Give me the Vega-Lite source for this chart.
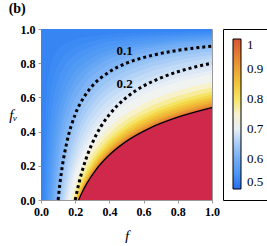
{
  "$schema": "https://vega.github.io/schema/vega-lite/v6.json",
  "width": 171,
  "height": 171,
  "padding": {"left": 8, "top": 2, "right": 0, "bottom": 0},
  "title": {"text": "(b)", "anchor": "start", "frame": "bounds", "font": "Liberation Serif", "fontSize": 14, "fontWeight": "bold", "color": "black", "offset": 7},
  "config": {
    "view": {"stroke": "#9a9a9a"},
    "axis": {"grid": false, "domainColor": "#9a9a9a", "tickColor": "#9a9a9a", "tickSize": 3, "labelFont": "Liberation Serif", "labelFontWeight": "bold", "labelFontSize": 12, "labelColor": "black", "labelPadding": 3, "labelOverlap": false, "labelFlush": false, "labelSeparation": 0, "titleFont": "Liberation Serif", "titleFontStyle": "italic", "titleFontWeight": "normal", "titleFontSize": 15, "titleColor": "black"}
  },
  "datasets": {
    "bands": [
      {"c":0.5,"f":0,"v":1},{"c":0.5,"f":1,"v":1},
      {"c":0.525,"f":0.012,"v":0},{"c":0.525,"f":0.015,"v":0.2},{"c":0.525,"f":0.02,"v":0.4},{"c":0.525,"f":0.03,"v":0.6},{"c":0.525,"f":0.05,"v":0.76},{"c":0.525,"f":0.1,"v":0.88},{"c":0.525,"f":0.2,"v":0.94},{"c":0.525,"f":0.4,"v":0.97},{"c":0.525,"f":0.7,"v":0.983},{"c":0.525,"f":1,"v":0.988},
      {"c":0.5375,"f":0.021,"v":0},{"c":0.5375,"f":0.025,"v":0.16},{"c":0.5375,"f":0.03,"v":0.3},{"c":0.5375,"f":0.04,"v":0.475},{"c":0.5375,"f":0.06,"v":0.65},{"c":0.5375,"f":0.1,"v":0.79},{"c":0.5375,"f":0.2,"v":0.895},{"c":0.5375,"f":0.4,"v":0.948},{"c":0.5375,"f":0.7,"v":0.97},{"c":0.5375,"f":1,"v":0.979},
      {"c":0.55,"f":0.03,"v":0},{"c":0.55,"f":0.035,"v":0.143},{"c":0.55,"f":0.04,"v":0.25},{"c":0.55,"f":0.05,"v":0.4},{"c":0.55,"f":0.07,"v":0.571},{"c":0.55,"f":0.1,"v":0.7},{"c":0.55,"f":0.15,"v":0.8},{"c":0.55,"f":0.2,"v":0.85},{"c":0.55,"f":0.3,"v":0.9},{"c":0.55,"f":0.5,"v":0.94},{"c":0.55,"f":0.75,"v":0.96},{"c":0.55,"f":1,"v":0.97},
      {"c":0.5625,"f":0.04,"v":0},{"c":0.5625,"f":0.046,"v":0.13},{"c":0.5625,"f":0.055,"v":0.273},{"c":0.5625,"f":0.07,"v":0.429},{"c":0.5625,"f":0.1,"v":0.6},{"c":0.5625,"f":0.15,"v":0.733},{"c":0.5625,"f":0.25,"v":0.84},{"c":0.5625,"f":0.4,"v":0.9},{"c":0.5625,"f":0.7,"v":0.943},{"c":0.5625,"f":1,"v":0.96},
      {"c":0.575,"f":0.05,"v":0},{"c":0.575,"f":0.06,"v":0.167},{"c":0.575,"f":0.075,"v":0.333},{"c":0.575,"f":0.1,"v":0.5},{"c":0.575,"f":0.13,"v":0.615},{"c":0.575,"f":0.17,"v":0.706},{"c":0.575,"f":0.25,"v":0.8},{"c":0.575,"f":0.35,"v":0.857},{"c":0.575,"f":0.5,"v":0.9},{"c":0.575,"f":0.75,"v":0.933},{"c":0.575,"f":1,"v":0.95},
      {"c":0.5875,"f":0.06,"v":0},{"c":0.5875,"f":0.07,"v":0.143},{"c":0.5875,"f":0.085,"v":0.294},{"c":0.5875,"f":0.11,"v":0.455},{"c":0.5875,"f":0.15,"v":0.6},{"c":0.5875,"f":0.2,"v":0.7},{"c":0.5875,"f":0.3,"v":0.8},{"c":0.5875,"f":0.45,"v":0.867},{"c":0.5875,"f":0.7,"v":0.914},{"c":0.5875,"f":1,"v":0.94},
      {"c":0.6,"f":0.07,"v":0},{"c":0.6,"f":0.08,"v":0.125},{"c":0.6,"f":0.1,"v":0.3},{"c":0.6,"f":0.13,"v":0.462},{"c":0.6,"f":0.17,"v":0.588},{"c":0.6,"f":0.25,"v":0.72},{"c":0.6,"f":0.35,"v":0.8},{"c":0.6,"f":0.5,"v":0.86},{"c":0.6,"f":0.75,"v":0.907},{"c":0.6,"f":1,"v":0.93},
      {"c":0.6125,"f":0.08,"v":0},{"c":0.6125,"f":0.09,"v":0.109},{"c":0.6125,"f":0.11,"v":0.267},{"c":0.6125,"f":0.14,"v":0.421},{"c":0.6125,"f":0.18,"v":0.547},{"c":0.6125,"f":0.25,"v":0.671},{"c":0.6125,"f":0.37,"v":0.776},{"c":0.6125,"f":0.55,"v":0.848},{"c":0.6125,"f":0.8,"v":0.894},{"c":0.6125,"f":1,"v":0.915},
      {"c":0.625,"f":0.09,"v":0},{"c":0.625,"f":0.1,"v":0.096},{"c":0.625,"f":0.12,"v":0.24},{"c":0.625,"f":0.15,"v":0.386},{"c":0.625,"f":0.2,"v":0.534},{"c":0.625,"f":0.3,"v":0.684},{"c":0.625,"f":0.45,"v":0.785},{"c":0.625,"f":0.65,"v":0.849},{"c":0.625,"f":1,"v":0.9},
      {"c":0.6375,"f":0.1,"v":0},{"c":0.6375,"f":0.11,"v":0.086},{"c":0.6375,"f":0.13,"v":0.219},{"c":0.6375,"f":0.16,"v":0.357},{"c":0.6375,"f":0.21,"v":0.502},{"c":0.6375,"f":0.3,"v":0.644},{"c":0.6375,"f":0.45,"v":0.757},{"c":0.6375,"f":0.65,"v":0.828},{"c":0.6375,"f":1,"v":0.885},
      {"c":0.65,"f":0.11,"v":0},{"c":0.65,"f":0.12,"v":0.077},{"c":0.65,"f":0.14,"v":0.2},{"c":0.65,"f":0.17,"v":0.331},{"c":0.65,"f":0.22,"v":0.473},{"c":0.65,"f":0.3,"v":0.604},{"c":0.65,"f":0.42,"v":0.71},{"c":0.65,"f":0.6,"v":0.791},{"c":0.65,"f":0.8,"v":0.84},{"c":0.65,"f":1,"v":0.87},
      {"c":0.6625,"f":0.119,"v":0},{"c":0.6625,"f":0.13,"v":0.076},{"c":0.6625,"f":0.15,"v":0.186},{"c":0.6625,"f":0.19,"v":0.341},{"c":0.6625,"f":0.24,"v":0.465},{"c":0.6625,"f":0.32,"v":0.586},{"c":0.6625,"f":0.44,"v":0.688},{"c":0.6625,"f":0.6,"v":0.763},{"c":0.6625,"f":0.8,"v":0.817},{"c":0.6625,"f":1,"v":0.85},
      {"c":0.675,"f":0.128,"v":0},{"c":0.675,"f":0.14,"v":0.074},{"c":0.675,"f":0.16,"v":0.175},{"c":0.675,"f":0.2,"v":0.319},{"c":0.675,"f":0.25,"v":0.438},{"c":0.675,"f":0.33,"v":0.558},{"c":0.675,"f":0.45,"v":0.662},{"c":0.675,"f":0.6,"v":0.736},{"c":0.675,"f":0.8,"v":0.794},{"c":0.675,"f":1,"v":0.83},
      {"c":0.6875,"f":0.137,"v":0},{"c":0.6875,"f":0.15,"v":0.072},{"c":0.6875,"f":0.17,"v":0.163},{"c":0.6875,"f":0.21,"v":0.296},{"c":0.6875,"f":0.27,"v":0.428},{"c":0.6875,"f":0.35,"v":0.538},{"c":0.6875,"f":0.47,"v":0.637},{"c":0.6875,"f":0.63,"v":0.715},{"c":0.6875,"f":0.82,"v":0.77},{"c":0.6875,"f":1,"v":0.805},
      {"c":0.7,"f":0.145,"v":0},{"c":0.7,"f":0.16,"v":0.074},{"c":0.7,"f":0.18,"v":0.156},{"c":0.7,"f":0.22,"v":0.279},{"c":0.7,"f":0.28,"v":0.403},{"c":0.7,"f":0.36,"v":0.51},{"c":0.7,"f":0.48,"v":0.609},{"c":0.7,"f":0.64,"v":0.688},{"c":0.7,"f":0.82,"v":0.743},{"c":0.7,"f":1,"v":0.78},
      {"c":0.7125,"f":0.153,"v":0},{"c":0.7125,"f":0.168,"v":0.068},{"c":0.7125,"f":0.19,"v":0.151},{"c":0.7125,"f":0.235,"v":0.276},{"c":0.7125,"f":0.3,"v":0.398},{"c":0.7125,"f":0.39,"v":0.506},{"c":0.7125,"f":0.51,"v":0.596},{"c":0.7125,"f":0.68,"v":0.675},{"c":0.7125,"f":1,"v":0.757},
      {"c":0.725,"f":0.16,"v":0},{"c":0.725,"f":0.175,"v":0.063},{"c":0.725,"f":0.2,"v":0.149},{"c":0.725,"f":0.25,"v":0.276},{"c":0.725,"f":0.32,"v":0.395},{"c":0.725,"f":0.42,"v":0.503},{"c":0.725,"f":0.55,"v":0.591},{"c":0.725,"f":0.72,"v":0.664},{"c":0.725,"f":1,"v":0.735},
      {"c":0.75,"f":0.175,"v":0},{"c":0.75,"f":0.19,"v":0.054},{"c":0.75,"f":0.22,"v":0.142},{"c":0.75,"f":0.27,"v":0.253},{"c":0.75,"f":0.34,"v":0.36},{"c":0.75,"f":0.44,"v":0.462},{"c":0.75,"f":0.58,"v":0.553},{"c":0.75,"f":0.76,"v":0.627},{"c":0.75,"f":1,"v":0.69},
      {"c":0.775,"f":0.186,"v":0},{"c":0.775,"f":0.2,"v":0.045},{"c":0.775,"f":0.23,"v":0.127},{"c":0.775,"f":0.28,"v":0.231},{"c":0.775,"f":0.35,"v":0.333},{"c":0.775,"f":0.45,"v":0.433},{"c":0.775,"f":0.6,"v":0.528},{"c":0.775,"f":0.8,"v":0.608},{"c":0.775,"f":1,"v":0.66},
      {"c":0.8,"f":0.195,"v":0},{"c":0.8,"f":0.21,"v":0.045},{"c":0.8,"f":0.24,"v":0.12},{"c":0.8,"f":0.29,"v":0.217},{"c":0.8,"f":0.36,"v":0.315},{"c":0.8,"f":0.46,"v":0.411},{"c":0.8,"f":0.6,"v":0.5},{"c":0.8,"f":0.8,"v":0.581},{"c":0.8,"f":1,"v":0.635},
      {"c":0.825,"f":0.2,"v":0},{"c":0.825,"f":0.215,"v":0.042},{"c":0.825,"f":0.245,"v":0.113},{"c":0.825,"f":0.3,"v":0.214},{"c":0.825,"f":0.37,"v":0.306},{"c":0.825,"f":0.47,"v":0.398},{"c":0.825,"f":0.62,"v":0.489},{"c":0.825,"f":0.8,"v":0.561},{"c":0.825,"f":1,"v":0.615},
      {"c":0.85,"f":0.205,"v":0},{"c":0.85,"f":0.22,"v":0.04},{"c":0.85,"f":0.25,"v":0.108},{"c":0.85,"f":0.3,"v":0.198},{"c":0.85,"f":0.37,"v":0.289},{"c":0.85,"f":0.47,"v":0.381},{"c":0.85,"f":0.62,"v":0.473},{"c":0.85,"f":0.8,"v":0.545},{"c":0.85,"f":1,"v":0.6},
      {"c":0.875,"f":0.209,"v":0},{"c":0.875,"f":0.225,"v":0.041},{"c":0.875,"f":0.26,"v":0.115},{"c":0.875,"f":0.31,"v":0.199},{"c":0.875,"f":0.38,"v":0.285},{"c":0.875,"f":0.48,"v":0.373},{"c":0.875,"f":0.63,"v":0.462},{"c":0.875,"f":0.8,"v":0.53},{"c":0.875,"f":1,"v":0.585},
      {"c":0.9,"f":0.212,"v":0},{"c":0.9,"f":0.23,"v":0.043},{"c":0.9,"f":0.26,"v":0.105},{"c":0.9,"f":0.31,"v":0.187},{"c":0.9,"f":0.38,"v":0.272},{"c":0.9,"f":0.48,"v":0.359},{"c":0.9,"f":0.63,"v":0.447},{"c":0.9,"f":0.8,"v":0.515},{"c":0.9,"f":1,"v":0.57},
      {"c":0.925,"f":0.215,"v":0},{"c":0.925,"f":0.235,"v":0.046},{"c":0.925,"f":0.265,"v":0.106},{"c":0.925,"f":0.32,"v":0.191},{"c":0.925,"f":0.39,"v":0.273},{"c":0.925,"f":0.49,"v":0.356},{"c":0.925,"f":0.64,"v":0.442},{"c":0.925,"f":0.8,"v":0.504},{"c":0.925,"f":1,"v":0.56},
      {"c":0.95,"f":0.217,"v":0},{"c":0.95,"f":0.235,"v":0.041},{"c":0.95,"f":0.265,"v":0.099},{"c":0.95,"f":0.32,"v":0.184},{"c":0.95,"f":0.39,"v":0.264},{"c":0.95,"f":0.49,"v":0.347},{"c":0.95,"f":0.64,"v":0.432},{"c":0.95,"f":0.8,"v":0.494},{"c":0.95,"f":1,"v":0.55},
      {"c":0.975,"f":0.219,"v":0},{"c":0.975,"f":0.24,"v":0.046},{"c":0.975,"f":0.27,"v":0.103},{"c":0.975,"f":0.32,"v":0.178},{"c":0.975,"f":0.39,"v":0.259},{"c":0.975,"f":0.49,"v":0.341},{"c":0.975,"f":0.64,"v":0.427},{"c":0.975,"f":0.8,"v":0.489},{"c":0.975,"f":1,"v":0.545},
      {"c":1,"f":0.22,"v":0},{"c":1,"f":0.24,"v":0.044},{"c":1,"f":0.27,"v":0.1},{"c":1,"f":0.32,"v":0.175},{"c":1,"f":0.39,"v":0.254},{"c":1,"f":0.49,"v":0.337},{"c":1,"f":0.64,"v":0.422},{"c":1,"f":0.8,"v":0.484},{"c":1,"f":1,"v":0.54}
    ],
    "dots": [
      {"k":"0.1","f":0.1,"v":0},{"k":"0.1","f":0.11,"v":0.091},{"k":"0.1","f":0.125,"v":0.2},{"k":"0.1","f":0.15,"v":0.333},{"k":"0.1","f":0.2,"v":0.5},{"k":"0.1","f":0.25,"v":0.6},{"k":"0.1","f":0.3,"v":0.667},{"k":"0.1","f":0.4,"v":0.75},{"k":"0.1","f":0.5,"v":0.8},{"k":"0.1","f":0.65,"v":0.846},{"k":"0.1","f":0.8,"v":0.875},{"k":"0.1","f":1,"v":0.9},
      {"k":"0.2","f":0.2,"v":0},{"k":"0.2","f":0.22,"v":0.091},{"k":"0.2","f":0.25,"v":0.2},{"k":"0.2","f":0.3,"v":0.333},{"k":"0.2","f":0.35,"v":0.429},{"k":"0.2","f":0.4,"v":0.5},{"k":"0.2","f":0.5,"v":0.6},{"k":"0.2","f":0.6,"v":0.667},{"k":"0.2","f":0.7,"v":0.714},{"k":"0.2","f":0.8,"v":0.75},{"k":"0.2","f":0.9,"v":0.778},{"k":"0.2","f":1,"v":0.8}
    ],
    "labels": [
      {"t":"0.1","f":0.489,"v":0.87},
      {"t":"0.2","f":0.489,"v":0.677}
    ],
    "legendvals": [
      {"z":0.5,"f":0.5,"v":0.5},
      {"z":1,"f":0.5,"v":0.5}
    ]
  },
  "encoding": {
    "x": {"field": "f", "type": "quantitative", "scale": {"domain": [0, 1], "nice": false, "zero": false}, "axis": {"tickCount": 5, "format": ".1f", "title": "f", "titlePadding": 11, "labelOverlap": false}},
    "y": {"field": "v", "type": "quantitative", "stack": null, "scale": {"domain": [0, 1], "nice": false, "zero": false}, "axis": {"tickCount": 5, "format": ".1f", "title": "fᵥ", "titleAngle": 0, "titleBaseline": "middle", "titleAlign": "right", "titlePadding": 3, "labelOverlap": false}}
  },
  "layer": [
    {
      "data": {"name": "bands"},
      "mark": {"type": "area", "interpolate": "monotone"},
      "encoding": {
        "y2": {"datum": 0},
        "color": {"field": "c", "type": "ordinal", "legend": null, "scale": {
          "domain": [0.5,0.525,0.5375,0.55,0.5625,0.575,0.5875,0.6,0.6125,0.625,0.6375,0.65,0.6625,0.675,0.6875,0.7,0.7125,0.725,0.75,0.775,0.8,0.825,0.85,0.875,0.9,0.925,0.95,0.975,1],
          "range": ["#3784f3","#3c8af4","#428ff5","#4a95f5","#529bf5","#5ba0f5","#66a7f5","#72adf5","#7fb5f6","#8cbcf6","#99c4f6","#a6cbf6","#b4d3f6","#c2dbf6","#cfe2f6","#dce8f6","#e8eef5","#f1f3f1","#f7f1cc","#f6ec9a","#f5e465","#f4d648","#f2c63c","#f0b437","#eca234","#e88f33","#e47b33","#df6834","#d0284a"]}}
      }
    },
    {
      "data": {"name": "bands"},
      "transform": [{"filter": {"field": "c", "equal": 1}}],
      "mark": {"type": "line", "color": "black", "strokeWidth": 1.3, "interpolate": "monotone"},
      "encoding": {}
    },
    {
      "data": {"name": "dots"},
      "mark": {"type": "line", "color": "black", "strokeWidth": 3, "strokeDash": [3, 3], "interpolate": "monotone"},
      "encoding": {
        "detail": {"field": "k", "type": "nominal"}
      }
    },
    {
      "data": {"name": "labels"},
      "mark": {"type": "text", "font": "Liberation Serif", "fontWeight": "bold", "fontSize": 13, "color": "black"},
      "encoding": {
        "text": {"field": "t", "type": "nominal"}
      }
    },
    {
      "data": {"name": "legendvals"},
      "mark": {"type": "point", "opacity": 0},
      "encoding": {
        "color": {"field": "z", "type": "quantitative",
          "scale": {"type": "linear", "domain": [0.5,0.55,0.6,0.65,0.7,0.75,0.8,0.85,0.9,0.95,1], "range": ["#2a6cef","#4b95f5","#72acf5","#a6cbf6","#e8eef5","#f7f1cc","#f5e465","#f2c63c","#eca234","#e47b33","#d85533"]},
          "legend": {"title": null, "orient": "right", "offset": 5, "direction": "vertical", "gradientLength": 150, "gradientThickness": 8, "gradientStrokeColor": "black", "gradientStrokeWidth": 1, "values": [0.5, 0.6, 0.7, 0.8, 0.9, 1], "format": ".1~f", "labelFont": "Liberation Serif", "labelFontSize": 13, "labelColor": "black", "labelOffset": 6, "labelOverlap": false, "strokeColor": "black", "fillColor": "white", "padding": 10}}
      }
    }
  ],
  "resolve": {"scale": {"color": "independent"}}
}
